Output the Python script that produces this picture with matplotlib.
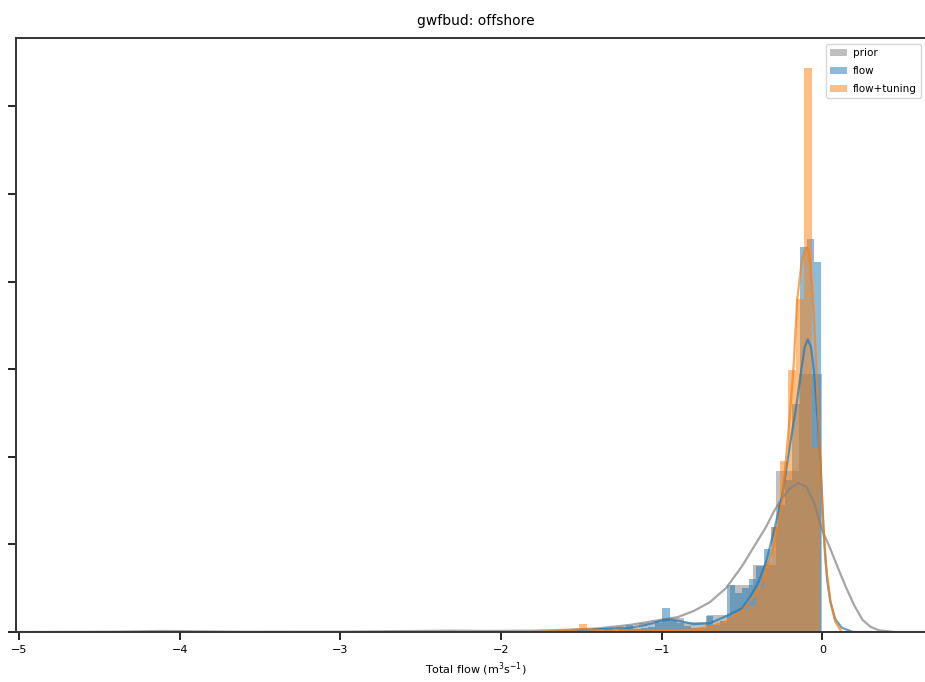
import matplotlib
matplotlib.use("Agg")
import matplotlib.pyplot as plt
import numpy as np

# ---- histogram data (density) ----
prior_bin_start = -1.43
prior_bin_width = 0.143
prior_heights = [0.04, 0.06, 0.10, 0.16, 0.11, 0.19, 0.54, 0.76, 1.84, 2.95]

flow_bin_start = -1.356
flow_bin_width = 0.045
flow_heights = [0.03, 0.0, 0.03, 0.08, 0.03, 0.05, 0.06, 0.12, 0.27, 0.12,
                0.10, 0.07, 0.04, 0.05, 0.18, 0.08, 0.12, 0.54, 0.44, 0.50,
                0.60, 0.75, 0.95, 1.20, 1.45, 1.73, 2.60, 4.39, 4.49, 4.22]

tune_bin_start = -1.612
tune_bin_width = 0.05
tune_heights = [0.0, 0.02, 0.09, 0.02, 0.0, 0.0, 0.02, 0.0, 0.0, 0.02,
                0.0, 0.02, 0.03, 0.02, 0.0, 0.02, 0.03, 0.05, 0.06, 0.10,
                0.12, 0.20, 0.25, 0.30, 0.50, 0.80, 1.20, 1.95, 2.99, 3.80,
                6.44, 2.10]

# ---- kde curves ----
prior_kde_x = [-5.0, -4.4, -4.1, -3.9, -3.6, -3.0, -2.5, -2.3, -2.1, -1.8, -1.6,
               -1.4, -1.2, -1.0, -0.9, -0.8, -0.7, -0.6, -0.5, -0.4, -0.35,
               -0.3, -0.25, -0.2, -0.15, -0.1, -0.05, 0.0, 0.05, 0.1, 0.15,
               0.2, 0.25, 0.3, 0.35, 0.45, 0.7]
prior_kde_y = [0.0, 0.004, 0.012, 0.008, 0.003, 0.004, 0.012, 0.015, 0.012, 0.015, 0.025,
               0.04, 0.08, 0.14, 0.17, 0.24, 0.34, 0.50, 0.75, 1.05, 1.20,
               1.38, 1.53, 1.64, 1.70, 1.66, 1.47, 1.16, 0.95, 0.72, 0.50,
               0.30, 0.14, 0.06, 0.02, 0.0, 0.0]

flow_kde_x = [-1.7, -1.4, -1.2, -1.1, -1.0, -0.95, -0.9, -0.8, -0.7, -0.6,
              -0.5, -0.45, -0.4, -0.35, -0.3, -0.25, -0.2, -0.16, -0.13,
              -0.11, -0.09, -0.07, -0.05, -0.03, -0.01, 0.01, 0.03, 0.05,
              0.08, 0.12, 0.19, 0.3]
flow_kde_y = [0.0, 0.03, 0.05, 0.08, 0.13, 0.14, 0.13, 0.09, 0.10, 0.18,
              0.27, 0.40, 0.56, 0.80, 1.16, 1.55, 2.15, 2.60, 3.00,
              3.25, 3.34, 3.25, 2.95, 2.45, 1.90, 1.10, 0.60, 0.35,
              0.15, 0.05, 0.0, 0.0]

tune_kde_x = [-1.8, -1.6, -1.52, -1.48, -1.42, -1.3, -1.1, -0.9, -0.8, -0.7,
              -0.6, -0.5, -0.4, -0.35, -0.3, -0.25, -0.21, -0.18, -0.156,
              -0.13, -0.11, -0.095, -0.08, -0.06, -0.04, -0.02, 0.0, 0.02,
              0.05, 0.08, 0.12, 0.2]
tune_kde_y = [0.0, 0.01, 0.03, 0.035, 0.025, 0.015, 0.015, 0.02, 0.03, 0.06,
              0.12, 0.24, 0.48, 0.70, 1.00, 1.50, 2.30, 3.00, 3.80,
              4.20, 4.36, 4.39, 4.30, 3.85, 3.10, 2.20, 1.40, 0.80,
              0.35, 0.12, 0.0, 0.0]

labels = ["prior", "flow", "flow+tuning"]
colors = ["grey", "C0", "C1"]


def edges(start, width, n):
    return start + width * np.arange(n + 1)


def main():

    fig = plt.figure(figsize=(9.25, 6.82), dpi=100)
    # axes runs slightly past the right edge, like the cropped original
    ax = fig.add_axes([16 / 925, 50 / 682, 920 / 925, 594 / 682])

    series = [
        (prior_bin_start, prior_bin_width, prior_heights, prior_kde_x, prior_kde_y),
        (flow_bin_start, flow_bin_width, flow_heights, flow_kde_x, flow_kde_y),
        (tune_bin_start, tune_bin_width, tune_heights, tune_kde_x, tune_kde_y),
    ]

    for (start, width, heights, kx, ky), lab, col in zip(series, labels, colors):
        e = edges(start, width, len(heights))
        centers = (e[:-1] + e[1:]) / 2
        ax.hist(centers, bins=e, weights=heights, color=col, alpha=0.5, label=lab)
        ax.plot(kx, ky, color=col, lw=1.6, alpha=0.7)

    ax.set_xlim(-5.02, 0.708)
    ax.set_ylim(0, 6.78)
    ax.set_xticks([-5, -4, -3, -2, -1, 0])
    ax.set_yticks([0, 1, 2, 3, 4, 5, 6])
    ax.set_yticklabels([])
    ax.tick_params(axis="both", length=6, width=1.2, labelsize=8)

    for s in ax.spines.values():
        s.set_linewidth(1.4)
        s.set_color("#333333")

    ax.set_title("gwfbud: offshore", fontsize=10, pad=9)
    ax.set_xlabel("Total flow (m$^3$s$^{-1}$)", fontsize=8)

    # legend sits against the right edge; nudged left so the last label fits
    ax.legend(loc="upper left", bbox_to_anchor=(826 / 925, 1 - 44 / 682),
              bbox_transform=fig.transFigure, fontsize=7.5, framealpha=0.8,
              borderaxespad=0, handlelength=1.6, handletextpad=0.6,
              labelspacing=0.75)

    fig.savefig("out.png", dpi=100)


if __name__ == '__main__':
    main()
